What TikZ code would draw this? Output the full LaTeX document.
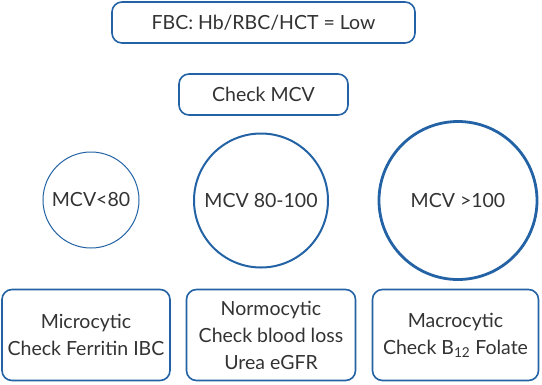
\documentclass[tikz,border=0pt]{standalone}
\usepackage{fontspec}
\setmainfont{Lato}
\definecolor{bl}{HTML}{2363A5}
\definecolor{tx}{HTML}{333333}
\begin{document}
\begin{tikzpicture}[x=1pt,y=-1pt,
  txt/.style={text=tx,font=\fontsize{19.5}{27}\selectfont,align=center,inner sep=0pt},
  rbox/.style={draw=bl,line width=1.6pt,rounded corners=10pt,fill=white},
  circ/.style={draw=bl,circle,inner sep=0pt}]
\useasboundingbox (0,0) rectangle (542,384);
% top boxes
\node[rbox,minimum width=303pt,minimum height=41pt] (fbc) at (263.5,22.5) {};
\node[txt] at (fbc.center) {FBC: Hb/RBC/HCT = Low};
\node[rbox,minimum width=169pt,minimum height=41pt] (mcv) at (263.5,94.5) {};
\node[txt] at (mcv.center) {Check MCV};
% circles
\node[circ,line width=1pt,minimum size=96pt] (c1) at (91,200) {};
\node[txt] at (c1.center) {MCV<80};
\node[circ,line width=2pt,minimum size=134pt] (c2) at (261,200.5) {};
\node[txt] at (c2.center) {MCV 80-100};
\node[circ,line width=2.8pt,minimum size=158pt] (c3) at (458,200.5) {};
\node[txt] at (c3.center) {MCV >100};
% bottom boxes
\node[rbox,minimum width=168pt,minimum height=91pt] (b1) at (86,335) {};
\node[txt] at (b1.center) {Microcytic\\Check Ferritin IBC};
\node[rbox,minimum width=169pt,minimum height=91pt] (b2) at (271,335) {};
\node[txt] at (b2.center) {Normocytic\\Check blood loss\\Urea eGFR};
\node[rbox,minimum width=166pt,minimum height=91pt] (b3) at (455.5,335) {};
\node[txt] at (b3.center) {Macrocytic\\Check B\textsubscript{12} Folate};
\end{tikzpicture}
\end{document}
